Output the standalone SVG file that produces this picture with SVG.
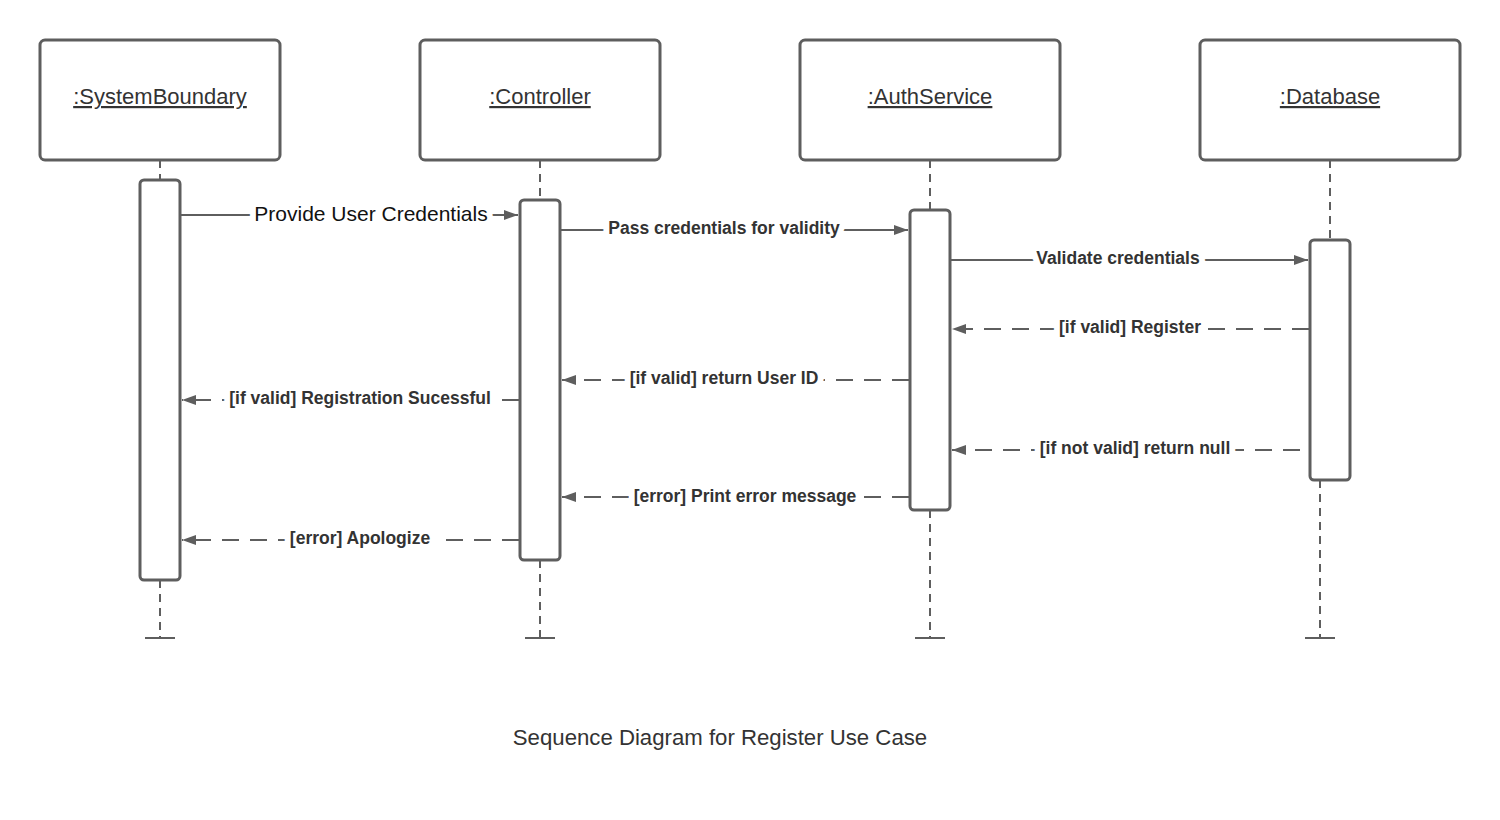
<svg xmlns="http://www.w3.org/2000/svg" width="1500" height="820" viewBox="0 0 1500 820">
<style>
.box{fill:#fff;stroke:#5e5e5e;stroke-width:3}
.hdr{font-family:"Liberation Sans",Arial,sans-serif;font-size:22px;fill:#333;text-decoration:underline;text-anchor:middle}
.life{stroke:#5e5e5e;stroke-width:2;stroke-dasharray:8 6;fill:none}
.tick{stroke:#5e5e5e;stroke-width:2}
.msg{stroke:#5e5e5e;stroke-width:2;fill:none}
.ret{stroke:#5e5e5e;stroke-width:2;fill:none;stroke-dasharray:17 11}
.lbl{font-family:"Liberation Sans",Arial,sans-serif;font-size:17.5px;font-weight:bold;fill:#333;text-anchor:middle;stroke:#fff;stroke-width:12;paint-order:stroke;stroke-linejoin:round}
.lbl2{font-family:"Liberation Sans",Arial,sans-serif;font-size:21px;fill:#111;text-anchor:middle;stroke:#fff;stroke-width:12;paint-order:stroke;stroke-linejoin:round}
.title{font-family:"Liberation Sans",Arial,sans-serif;font-size:22.2px;fill:#333;text-anchor:middle}
</style>
<defs>
<marker id="ah" viewBox="0 0 14 10" refX="14" refY="5" markerWidth="14" markerHeight="10" markerUnits="userSpaceOnUse" orient="auto">
<path d="M0,0 L14,5 L0,10 z" fill="#5e5e5e"/>
</marker>
</defs>

<g id="lifelines">
<line class="life" x1="160" y1="160" x2="160" y2="180"/>
<line class="life" x1="160" y1="580" x2="160" y2="638"/>
<line class="tick" x1="145" y1="638" x2="175" y2="638"/>
<line class="life" x1="540" y1="160" x2="540" y2="200"/>
<line class="life" x1="540" y1="560" x2="540" y2="638"/>
<line class="tick" x1="525" y1="638" x2="555" y2="638"/>
<line class="life" x1="930" y1="160" x2="930" y2="210"/>
<line class="life" x1="930" y1="510" x2="930" y2="638"/>
<line class="tick" x1="915" y1="638" x2="945" y2="638"/>
<line class="life" x1="1330" y1="160" x2="1330" y2="240"/>
<line class="life" x1="1320" y1="480" x2="1320" y2="638"/>
<line class="tick" x1="1305" y1="638" x2="1335" y2="638"/>
</g>

<g id="systemboundary">
<rect class="box" x="40" y="40" width="240" height="120" rx="5"/>
<text class="hdr" x="160" y="104">:SystemBoundary</text>
<rect class="box" x="140" y="180" width="40" height="400" rx="4"/>
</g>
<g id="controller">
<rect class="box" x="420" y="40" width="240" height="120" rx="5"/>
<text class="hdr" x="540" y="104">:Controller</text>
<rect class="box" x="520" y="200" width="40" height="360" rx="4"/>
</g>
<g id="authservice">
<rect class="box" x="800" y="40" width="260" height="120" rx="5"/>
<text class="hdr" x="930" y="104">:AuthService</text>
<rect class="box" x="910" y="210" width="40" height="300" rx="4"/>
</g>
<g id="database">
<rect class="box" x="1200" y="40" width="260" height="120" rx="5"/>
<text class="hdr" x="1330" y="104">:Database</text>
<rect class="box" x="1310" y="240" width="40" height="240" rx="4"/>
</g>

<g id="connectors">
<line class="msg" x1="181" y1="215" x2="518" y2="215" marker-end="url(#ah)"/>
<text class="lbl2" x="371" y="221">Provide User Credentials</text>

<line class="msg" x1="561" y1="230" x2="908" y2="230" marker-end="url(#ah)"/>
<text class="lbl" x="724" y="234">Pass credentials for validity</text>

<line class="msg" x1="951" y1="260" x2="1308" y2="260" marker-end="url(#ah)"/>
<text class="lbl" x="1118" y="264">Validate credentials</text>

<line class="ret" x1="1309" y1="329" x2="952" y2="329" marker-end="url(#ah)"/>
<text class="lbl" x="1130" y="333">[if valid] Register</text>

<line class="ret" x1="909" y1="380" x2="562" y2="380" marker-end="url(#ah)"/>
<text class="lbl" x="724" y="384">[if valid] return User ID</text>

<line class="ret" x1="519" y1="400" x2="182" y2="400" marker-end="url(#ah)"/>
<text class="lbl" x="360" y="404">[if valid] Registration Sucessful</text>

<line class="ret" x1="1300" y1="450" x2="952" y2="450" marker-end="url(#ah)"/>
<text class="lbl" x="1135" y="454">[if not valid] return null</text>

<line class="ret" x1="909" y1="497" x2="562" y2="497" marker-end="url(#ah)"/>
<text class="lbl" x="745" y="502">[error] Print error message</text>

<line class="ret" x1="519" y1="540" x2="182" y2="540" marker-end="url(#ah)"/>
<text class="lbl" x="360" y="544">[error] Apologize</text>
</g>

<text class="title" x="720" y="745">Sequence Diagram for Register Use Case</text>
</svg>
